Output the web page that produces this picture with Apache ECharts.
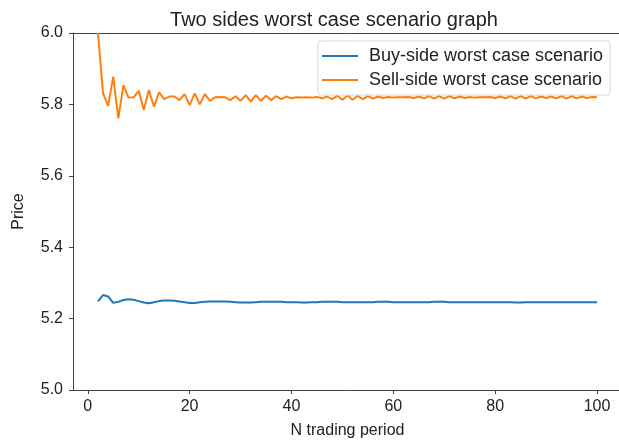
<!DOCTYPE html>
<html>
<head>
<meta charset="utf-8">
<script src="https://cdn.jsdelivr.net/npm/echarts@6/dist/echarts.min.js"></script>
<style>
  html, body { margin: 0; padding: 0; background: #fff; }
  #chart { width: 619px; height: 445px; }
</style>
</head>
<body>
<div id="chart"></div>
<script>
var periods = []
for (var n = 2; n <= 100; n++) periods.push(n)

var buySide = [
  5.248, 5.266, 5.262, 5.244, 5.247, 5.252, 5.254, 5.253, 5.249, 5.245,
  5.243, 5.246, 5.249, 5.251, 5.251, 5.250, 5.248, 5.246, 5.244, 5.244,
  5.246, 5.247, 5.248, 5.248, 5.248, 5.248, 5.247, 5.246, 5.245, 5.245,
  5.245, 5.246, 5.247, 5.247, 5.247, 5.247, 5.247, 5.246, 5.246, 5.246,
  5.245, 5.245, 5.246, 5.246, 5.247, 5.247, 5.247, 5.247, 5.246, 5.246,
  5.246, 5.246, 5.246, 5.246, 5.246, 5.247, 5.247, 5.247, 5.246, 5.246,
  5.246, 5.246, 5.246, 5.246, 5.246, 5.246, 5.247, 5.247, 5.247, 5.246,
  5.246, 5.246, 5.246, 5.246, 5.246, 5.246, 5.246, 5.246, 5.246, 5.246,
  5.246, 5.246, 5.245, 5.245, 5.246, 5.246, 5.246, 5.246, 5.246, 5.246,
  5.246, 5.246, 5.246, 5.246, 5.246, 5.246, 5.246, 5.246, 5.246
]

var sellSide = [
  6.000, 5.831, 5.796, 5.878, 5.761, 5.854, 5.819, 5.820, 5.838, 5.784,
  5.840, 5.794, 5.834, 5.815, 5.822, 5.822, 5.812, 5.829, 5.798, 5.831,
  5.800, 5.829, 5.810, 5.820, 5.821, 5.820, 5.812, 5.823, 5.810, 5.826,
  5.808, 5.826, 5.810, 5.824, 5.812, 5.823, 5.815, 5.822, 5.817, 5.820,
  5.819, 5.820, 5.819, 5.821, 5.817, 5.822, 5.815, 5.824, 5.813, 5.825,
  5.813, 5.824, 5.815, 5.823, 5.816, 5.822, 5.818, 5.821, 5.819, 5.820,
  5.820, 5.821, 5.818, 5.822, 5.817, 5.823, 5.816, 5.823, 5.816, 5.823,
  5.817, 5.822, 5.818, 5.821, 5.819, 5.820, 5.820, 5.821, 5.818, 5.822,
  5.817, 5.823, 5.816, 5.823, 5.816, 5.823, 5.817, 5.822, 5.818, 5.822,
  5.817, 5.823, 5.816, 5.823, 5.817, 5.822, 5.818, 5.821, 5.820
]

var xTicks = [0, 20, 40, 60, 80, 100]

var font = 'Liberation Sans'
var axisColor = '#444'

function pairs(ys) {
  return periods.map(function(x, i) { return [x, ys[i]] })
}

var chart = echarts.init(document.getElementById('chart'), null, { renderer: 'canvas' })
chart.setOption({
  animation: false,
  textStyle: { fontFamily: font },
  title: {
    text: 'Two sides worst case scenario graph',
    left: 329,
    top: 5,
    textAlign: 'center',
    textStyle: { fontFamily: font, fontSize: 20, fontWeight: 'normal', color: '#222' }
  },
  grid: { left: 73, top: 33, right: -3, bottom: 55, outerBoundsMode: 'none', containLabel: false },
  legend: {
    orient: 'vertical',
    left: 318,
    top: 41,
    padding: [5, 7, 5, 4],
    itemGap: 4,
    itemWidth: 36,
    itemHeight: 2,
    icon: 'rect',
    borderColor: '#d6d6d6',
    borderWidth: 1,
    borderRadius: 3,
    backgroundColor: 'rgba(255,255,255,0.85)',
    textStyle: { fontFamily: font, fontSize: 18, lineHeight: 20, color: '#222', padding: [0, 0, 0, 6] },
    data: ['Buy-side worst case scenario', 'Sell-side worst case scenario']
  },
  xAxis: [{
    type: 'value',
    min: -2.9,
    max: 104.9,
    name: 'N trading period',
    nameLocation: 'middle',
    nameGap: 33,
    nameTextStyle: { fontFamily: font, fontSize: 16, color: '#222' },
    axisLine: { onZero: false, lineStyle: { color: axisColor, width: 1 } },
    axisTick: { show: true, length: 4, customValues: xTicks, lineStyle: { color: axisColor } },
    axisLabel: { customValues: xTicks, margin: 9, fontFamily: font, fontSize: 16, color: '#222' },
    splitLine: { show: false }
  }, {
    type: 'value',
    position: 'top',
    min: -2.9,
    max: 104.9,
    axisLine: { onZero: false, lineStyle: { color: axisColor, width: 1 } },
    axisTick: { show: false },
    axisLabel: { show: false },
    splitLine: { show: false }
  }],
  yAxis: {
    type: 'value',
    min: 5.0,
    max: 6.0,
    interval: 0.2,
    name: 'Price',
    nameLocation: 'middle',
    nameRotate: 90,
    nameGap: 46,
    nameTextStyle: { fontFamily: font, fontSize: 16, color: '#222' },
    axisLine: { show: true, onZero: false, lineStyle: { color: axisColor, width: 1 } },
    axisTick: { show: true, length: 4, lineStyle: { color: axisColor } },
    axisLabel: {
      margin: 10,
      fontFamily: font,
      fontSize: 16,
      color: '#222',
      formatter: function(v) { return v.toFixed(1) }
    },
    splitLine: { show: false }
  },
  series: [{
    name: 'Buy-side worst case scenario',
    type: 'line',
    data: pairs(buySide),
    showSymbol: false,
    symbol: 'none',
    color: '#1f77b4',
    lineStyle: { width: 2, color: '#1f77b4' }
  }, {
    name: 'Sell-side worst case scenario',
    type: 'line',
    data: pairs(sellSide),
    showSymbol: false,
    symbol: 'none',
    color: '#ff7f0e',
    lineStyle: { width: 2, color: '#ff7f0e' }
  }]
})
</script>
</body>
</html>
